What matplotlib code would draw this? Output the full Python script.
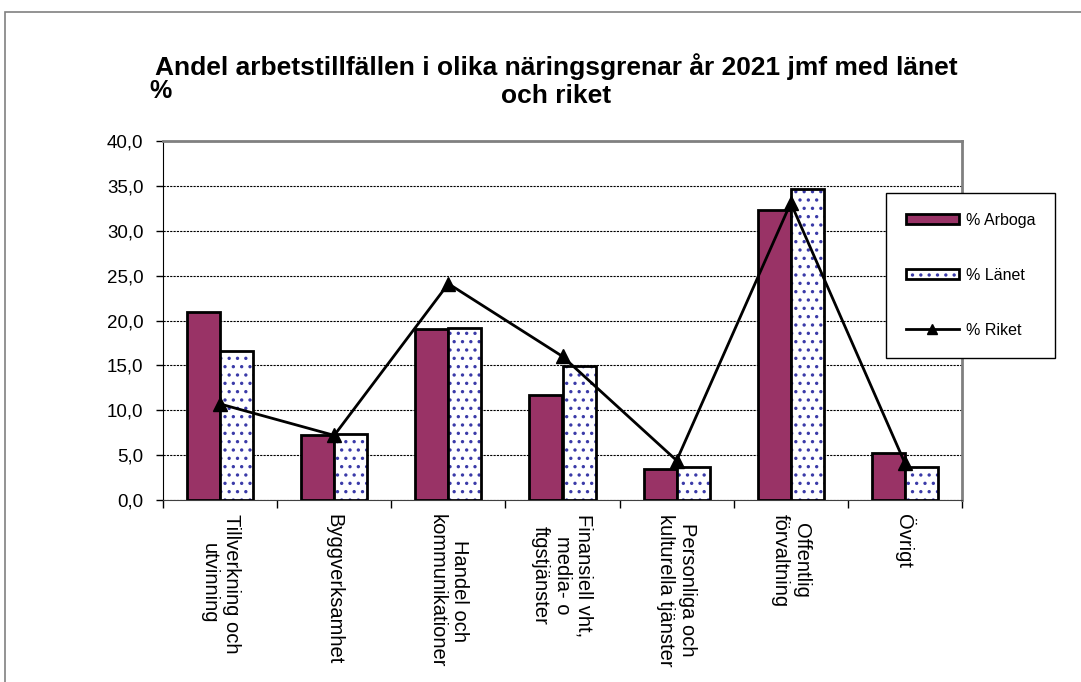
import numpy as np
import matplotlib
matplotlib.use('Agg')
import matplotlib.pyplot as plt
from matplotlib.patches import Rectangle, Patch
from matplotlib.lines import Line2D

plt.rcParams['font.family'] = ['Liberation Sans', 'DejaVu Sans']
plt.rcParams['hatch.linewidth'] = 1.2

# data
kategorier = ['Tillverkning och\nutvinning', 'Byggverksamhet', 'Handel och\nkommunikationer',
              'Finansiell vht,\nmedia- o\nftgstjänster', 'Personliga och\nkulturella tjänster',
              'Offentlig\nförvaltning', 'Övrigt']
arboga = [20.9, 7.2, 19.0, 11.7, 3.4, 32.3, 5.2]
lanet = [16.6, 7.3, 19.2, 14.9, 3.7, 34.6, 3.7]
riket = [10.7, 7.2, 24.1, 16.0, 4.4, 33.1, 4.1]

plum = '#993366'
dotblue = '#3a3aa8'
x = np.arange(len(kategorier))
w = 0.29

fig = plt.figure(figsize=(10.81, 6.82), dpi=100)
ax = fig.add_axes([163 / 1081, 1 - 500 / 682, (962 - 163) / 1081, (500 - 141) / 682])

# outer frame of the chart
fig.patches.append(Rectangle((5 / 1081, -0.1), 1.2, 1 - 12 / 682 + 0.1, transform=fig.transFigure,
                             fill=False, edgecolor='#808080', lw=1.2))

ax.bar(x - w / 2, arboga, w, color=plum, edgecolor='black', linewidth=2, zorder=3)
# dotted bars: blue dots first, then black outline
ax.bar(x + w / 2, lanet, w, color='white', edgecolor=dotblue, hatch='..', linewidth=0, zorder=3)
ax.bar(x + w / 2, lanet, w, fill=False, edgecolor='black', linewidth=2, zorder=4)
ax.plot(x, riket, color='black', lw=2, marker='^', markersize=10, zorder=5)

ax.set_xlim(-0.5, len(kategorier) - 0.5)
ax.set_ylim(0, 40)
ax.set_yticks(np.arange(0, 41, 5))
ax.set_yticklabels([f'{v:.1f}'.replace('.', ',') for v in np.arange(0, 41, 5)], fontsize=13.5)
ax.yaxis.grid(True, linestyle=(0, (2, 1)), color='black', lw=0.8, zorder=0)
ax.set_axisbelow(True)

ax.set_xticks(np.arange(len(kategorier) + 1) - 0.5)
ax.set_xticklabels([])
ax.set_xticks(x, minor=True)
ax.set_xticklabels(kategorier, minor=True, rotation=-90, ha='center', va='top',
                   multialignment='center', fontsize=14.5)
ax.tick_params(axis='x', which='minor', length=0, pad=10)
ax.tick_params(axis='x', which='major', length=6, direction='out', width=1)
ax.tick_params(axis='y', length=5, direction='out', width=1, pad=9)

ax.spines['left'].set_color('black')
ax.spines['bottom'].set_color('#404040')
ax.spines['top'].set_color('#808080')
ax.spines['right'].set_color('#808080')
ax.spines['top'].set_linewidth(2)
ax.spines['right'].set_linewidth(2)

# title in two rows, like the original
fig.text(556 / 1081, 1 - 67 / 682, 'Andel arbetstillfällen i olika näringsgrenar år 2021 jmf med länet',
         ha='center', va='center', fontsize=19, fontweight='bold')
fig.text(556 / 1081, 1 - 96 / 682, 'och riket',
         ha='center', va='center', fontsize=19, fontweight='bold')
fig.text(149 / 1081, 1 - 91 / 682, '%', ha='left', va='center', fontsize=18, fontweight='bold')

handles = [Patch(facecolor=plum, edgecolor='black', linewidth=2),
           (Patch(facecolor='white', edgecolor=dotblue, hatch='..', linewidth=0),
            Patch(fill=False, edgecolor='black', linewidth=2)),
           Line2D([], [], color='black', lw=2, marker='^', markersize=7)]
leg = fig.legend(handles, ['% Arboga', '% Länet', '% Riket'], loc='upper left',
                 bbox_to_anchor=(886 / 1081, 1 - 193 / 682), fontsize=11.5, frameon=True,
                 fancybox=False, edgecolor='black', framealpha=1, handlelength=3.3,
                 handleheight=0.6, handletextpad=0.45, labelspacing=2.5, borderpad=1.25,
                 borderaxespad=0)
leg.get_frame().set_linewidth(1)

fig.savefig('out.png', dpi=100)
